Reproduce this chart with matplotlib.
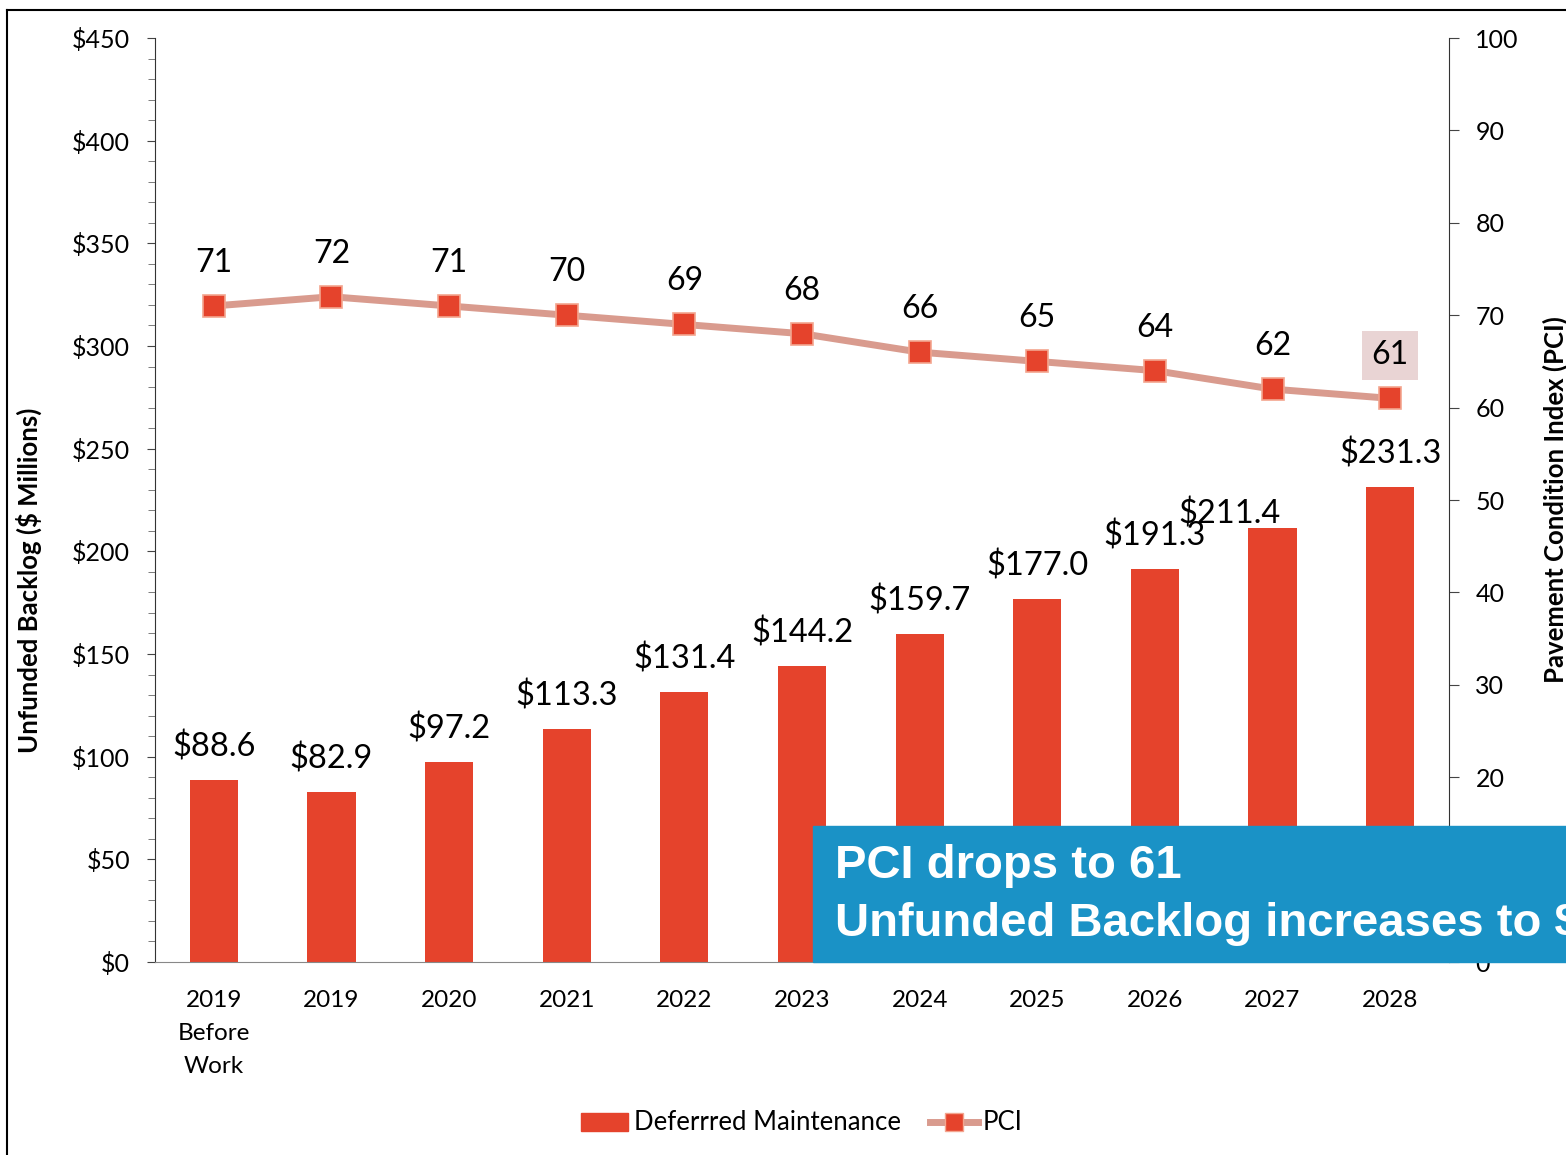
import matplotlib.pyplot as plt
from matplotlib.lines import Line2D
from matplotlib.patches import Rectangle, Patch
import numpy as np

# data
years = ["2019\nBefore\nWork", "2019", "2020", "2021", "2022", "2023",
         "2024", "2025", "2026", "2027", "2028"]
backlog = [88.6, 82.9, 97.2, 113.3, 131.4, 144.2, 159.7, 177.0, 191.3, 211.4, 231.3]
pci = [71, 72, 71, 70, 69, 68, 66, 65, 64, 62, 61]

bar_color = "#E5432C"
line_color = "#D99B8E"
blue = "#1A92C6"

plt.rcParams['font.family'] = ['Lato', 'DejaVu Sans']

fig = plt.figure(figsize=(15.66, 11.55), dpi=100)
ax = fig.add_axes([155/1566, 1-962/1155, (1449-155)/1566, (962-38)/1155])
x = np.arange(len(years))

ax.bar(x, backlog, width=0.41, color=bar_color, zorder=2)
ax.set_xlim(-0.5, 10.5)
ax.set_ylim(0, 450)
ax.set_yticks(np.arange(0, 451, 50))
ax.set_yticklabels(["$%d" % v for v in range(0, 451, 50)])
ax.set_yticks(np.arange(0, 451, 10), minor=True)
ax.tick_params(axis='y', which='major', length=6, labelsize=18, pad=12, color='#444444')
ax.tick_params(axis='y', which='minor', length=5, color='#666666')
ax.set_xticks(x)
ax.set_xticklabels(years, fontsize=17.5, linespacing=1.7)
ax.tick_params(axis='x', length=0, pad=20)
ax.spines['top'].set_visible(False)
ax.spines['right'].set_visible(False)
ax.spines['left'].set_color('#333333')
ax.spines['bottom'].set_color('#888888')
ax.set_ylabel("Unfunded Backlog ($ Millions)", fontsize=18.5, fontweight='bold')
ax.yaxis.set_label_coords(-0.0873, 0.413)

# bar labels (2027 one nudged left like the original)
dx = [0, 0, 0, 0, 0, 0, 0, 0, 0, -43, 0]
dy = [33, 33, 33, 33, 33, 33, 33, 33, 33, 14, 33]
for i, v in enumerate(backlog):
    ax.annotate("$%.1f" % v, (x[i], v), xytext=(dx[i]*0.72, dy[i]*0.72),
                textcoords='offset points', ha='center', va='center', fontsize=23.5)

ax2 = ax.twinx()
ax2.set_ylim(0, 100)
ax2.set_yticks(np.arange(0, 101, 10))
ax2.tick_params(axis='y', length=7, labelsize=18, pad=12, color='#444444')
for s in ['top', 'left', 'bottom']:
    ax2.spines[s].set_visible(False)
ax2.spines['right'].set_color('#333333')
ax2.set_ylabel("Pavement Condition Index (PCI)", fontsize=18.5, fontweight='bold')
ax2.yaxis.set_label_coords(1.0726, 0.5)

ax2.plot(x, pci, color=line_color, lw=5, marker='s', markersize=16.5,
         markerfacecolor=bar_color, markeredgecolor='#F3A58F', markeredgewidth=1.2, zorder=3)
for i, v in enumerate(pci):
    kw = {}
    if i == len(pci) - 1:
        kw['bbox'] = dict(boxstyle='square,pad=0.3', fc='#E9D4D4', ec='none')
    ax2.annotate(str(v), (x[i], v), xytext=(0, 31), textcoords='offset points',
                 ha='center', va='center', fontsize=23, **kw)

# legend
handles = [Patch(color=bar_color, label="Deferrred Maintenance"),
           Line2D([], [], color=line_color, lw=5, marker='s', markersize=13,
                  markerfacecolor=bar_color, markeredgecolor='#F3A58F', label="PCI")]
fig.legend(handles=handles, loc='center', bbox_to_anchor=(0.512, 1-1123/1155), ncol=2,
           frameon=False, fontsize=18.5, handlelength=1.85, handletextpad=0.2,
           columnspacing=1.15)

# blue callout box
box = Rectangle((813/1566, 1-962/1155), 1-813/1566, (962-826)/1155,
                transform=fig.transFigure, color=blue, zorder=10)
fig.add_artist(box)
t1 = fig.text(835/1566, 1-866/1155, "PCI drops to 61", color='white', fontsize=34,
              fontweight='bold', family='Liberation Sans', va='center', zorder=11)
t2 = fig.text(835/1566, 1-923/1155, "Unfunded Backlog increases to $231.3 Million",
              color='white', fontsize=34, fontweight='bold', family='Liberation Sans',
              va='center', zorder=11)
t2.set_clip_path(box)

# page frame lines
fig.add_artist(Line2D([7/1566, 7/1566], [0, 1-10/1155], transform=fig.transFigure, color='black', lw=1.5))
fig.add_artist(Line2D([7/1566, 1], [1-10/1155, 1-10/1155], transform=fig.transFigure, color='black', lw=1.5))

fig.savefig("out.png", dpi=100)
